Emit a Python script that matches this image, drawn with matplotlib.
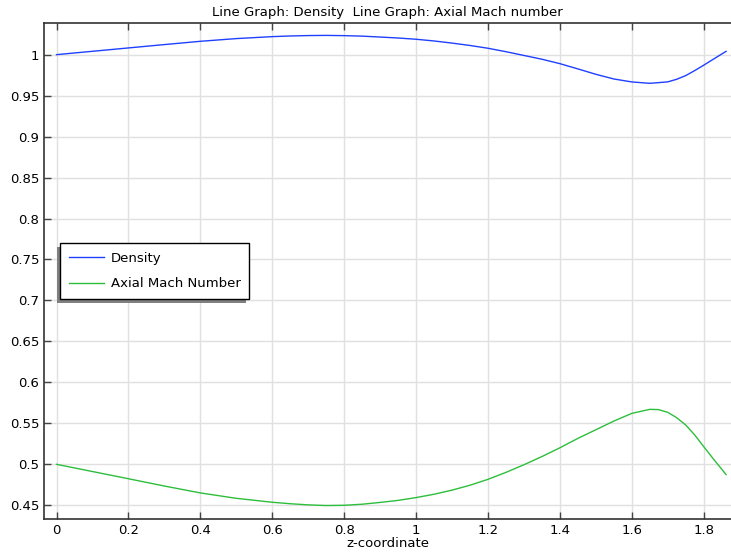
import matplotlib
matplotlib.use("Agg")
import matplotlib.pyplot as plt
from matplotlib.ticker import FuncFormatter, MultipleLocator
from matplotlib.patches import Rectangle

# --- data ---
z_density = [0.0, 0.1, 0.2, 0.3, 0.4, 0.5, 0.6, 0.65, 0.7, 0.75, 0.8, 0.85, 0.9,
             0.95, 1.0, 1.05, 1.1, 1.15, 1.2, 1.25, 1.3, 1.35, 1.4, 1.45, 1.5,
             1.55, 1.6, 1.65, 1.7, 1.725, 1.75, 1.775, 1.8, 1.825, 1.85, 1.862]
density = [1.000, 1.0041, 1.0082, 1.0123, 1.0163, 1.0196, 1.0220, 1.0228, 1.0233,
           1.0235, 1.0232, 1.0226, 1.0215, 1.0203, 1.0188, 1.0167, 1.0141, 1.0112,
           1.0078, 1.0036, 0.9990, 0.9944, 0.9890, 0.9826, 0.9760, 0.9703, 0.9667,
           0.9650, 0.9668, 0.9700, 0.9745, 0.9806, 0.9872, 0.9940, 1.0008, 1.0040]

z_mach = [0.0, 0.1, 0.2, 0.3, 0.4, 0.5, 0.6, 0.65, 0.7, 0.75, 0.8, 0.85, 0.9,
          0.95, 1.0, 1.05, 1.1, 1.15, 1.2, 1.25, 1.3, 1.35, 1.4, 1.45, 1.5, 1.55,
          1.6, 1.65, 1.674, 1.7, 1.725, 1.75, 1.775, 1.8, 1.825, 1.85, 1.862]
mach = [0.500, 0.4912, 0.4824, 0.4735, 0.4651, 0.4585, 0.4537, 0.4519, 0.4505,
        0.4497, 0.4500, 0.4513, 0.4535, 0.4560, 0.4594, 0.4635, 0.4685, 0.4745,
        0.4817, 0.4902, 0.4995, 0.5095, 0.5202, 0.5317, 0.5422, 0.5528, 0.5622,
        0.5671, 0.5668, 0.5634, 0.5568, 0.5479, 0.5357, 0.5215, 0.5075, 0.4940,
        0.4875]

title = "Line Graph: Density  Line Graph: Axial Mach number"
xlabel = "z-coordinate"
labels = ["Density", "Axial Mach Number"]
colors = ["#1f40ff", "#2dbe3c"]

plt.rcParams["font.family"] = ["DejaVu Sans"]
FS = 9.5
plt.rcParams["font.size"] = FS

W, H = 731, 555
fig = plt.figure(figsize=(W / 100, H / 100), dpi=100)
left, right, top, bottom = 44, 731, 22.7, 519.3
ax = fig.add_axes([left / W, (H - bottom) / H, (right - left) / W, (bottom - top) / H])

ax.plot(z_density, density, color=colors[0], lw=1.0, label=labels[0])
ax.plot(z_mach, mach, color=colors[1], lw=1.0, label=labels[1])

ax.set_xlim(-0.0348, 1.8757)
ax.set_ylim(0.4329, 1.039)
ax.xaxis.set_major_locator(MultipleLocator(0.2))
ax.yaxis.set_major_locator(MultipleLocator(0.05))
fmt = FuncFormatter(lambda v, p: f"{round(v, 4):g}")
ax.xaxis.set_major_formatter(fmt)
ax.yaxis.set_major_formatter(fmt)

ax.grid(True, color="#e0e0e0", lw=1.0)
ax.set_axisbelow(True)
ax.tick_params(axis="both", direction="in", length=5, width=1, color="#444444",
               labelsize=FS, top=True, right=False, pad=3.5)
for s in ["left", "top", "bottom"]:
    ax.spines[s].set_color("#333333")
    ax.spines[s].set_linewidth(1.2)
ax.spines["right"].set_visible(False)

ax.set_title(title, fontsize=FS, pad=5)
ax.set_xlabel(xlabel, fontsize=FS, labelpad=0)

# legend with lower-left shadow
leg = ax.legend(loc="upper left", bbox_to_anchor=((60 - left) / (right - left),
                                                  (bottom - 243.3) / (bottom - top)),
                borderaxespad=0, fancybox=False, framealpha=1, edgecolor="black",
                handlelength=2.65, handletextpad=0.55, labelspacing=0.95,
                borderpad=0.65, fontsize=FS)
leg.get_frame().set_linewidth(1.0)
leg.set_zorder(10)

fig.canvas.draw()
bb = leg.get_window_extent()
inv = fig.transFigure.inverted()
(x0, y0), (x1, y1) = inv.transform([(bb.x0 - 3, bb.y0 - 4), (bb.x1 - 3, bb.y1 - 4)])
shadow = Rectangle((x0, y0), x1 - x0, y1 - y0, transform=fig.transFigure,
                   facecolor="#808080", edgecolor="none", zorder=9)
shadow.set_clip_on(False)
ax.add_artist(shadow)

fig.savefig("out.png", dpi=100)
